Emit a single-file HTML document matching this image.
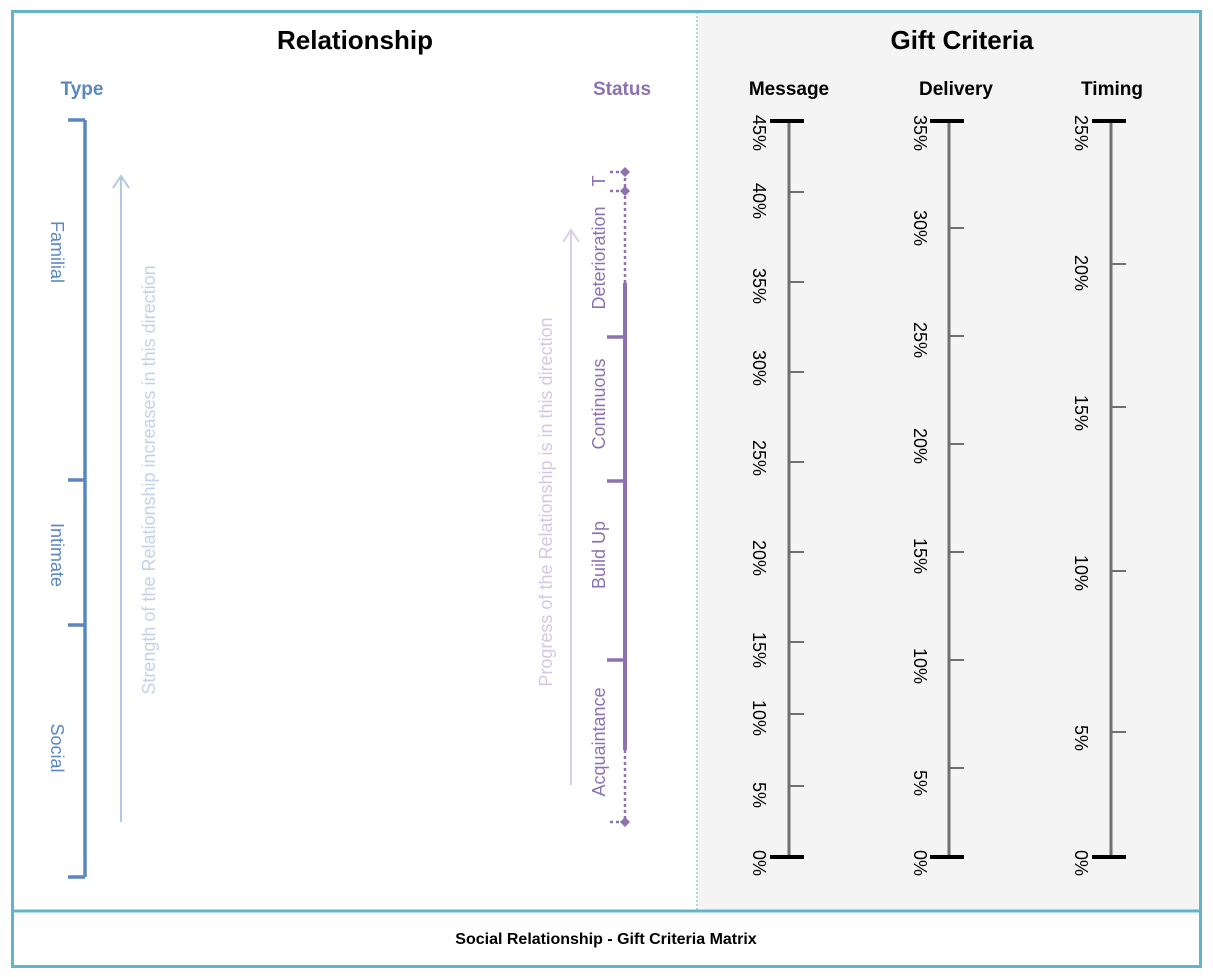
<!DOCTYPE html>
<html><head><meta charset="utf-8"><style>
html,body{margin:0;padding:0;background:#fff;width:1213px;height:977px;overflow:hidden}
svg{display:block;font-family:"Liberation Sans",sans-serif}
</style></head><body>
<svg width="1213" height="977" viewBox="0 0 1213 977" xmlns="http://www.w3.org/2000/svg">
<rect x="697" y="12" width="503" height="898" fill="#f4f4f4"/>
<rect x="12.5" y="11.5" width="1188" height="955" fill="none" stroke="#62b5c8" stroke-width="3"/>
<line x1="12" y1="911" x2="1200" y2="911" stroke="#62b5c8" stroke-width="3"/>
<line x1="697" y1="12" x2="697" y2="910" stroke="#62b5c8" stroke-width="1" stroke-dasharray="2,2"/>
<text x="606" y="944" text-anchor="middle" font-size="16" font-weight="bold">Social Relationship - Gift Criteria Matrix</text>
<text x="355" y="49" text-anchor="middle" font-size="26" font-weight="bold">Relationship</text>
<text x="962" y="49" text-anchor="middle" font-size="26" font-weight="bold">Gift Criteria</text>
<text x="82" y="95" text-anchor="middle" font-size="19" font-weight="bold" fill="#5b86c0">Type</text>
<text x="622" y="95" text-anchor="middle" font-size="19" font-weight="bold" fill="#8c72b0">Status</text>
<text x="789" y="95" text-anchor="middle" font-size="19" font-weight="bold">Message</text>
<text x="956" y="95" text-anchor="middle" font-size="19" font-weight="bold">Delivery</text>
<text x="1112" y="95" text-anchor="middle" font-size="19" font-weight="bold">Timing</text>
<!-- Type -->
<g stroke="#5b86c0" stroke-width="3.5" fill="#5b86c0">
<line x1="85" y1="120" x2="85" y2="877"/>
<line x1="68" y1="120" x2="85" y2="120"/><line x1="68" y1="480" x2="85" y2="480"/>
<line x1="68" y1="625" x2="85" y2="625"/><line x1="68" y1="877" x2="85" y2="877"/>
</g>
<g fill="#5b86c0" font-size="18">
<text transform="translate(51,252) rotate(90)" text-anchor="middle">Familial</text>
<text transform="translate(51,555) rotate(90)" text-anchor="middle">Intimate</text>
<text transform="translate(51,748) rotate(90)" text-anchor="middle">Social</text>
</g>
<line x1="121" y1="822" x2="121" y2="178" stroke="#b3c7e2" stroke-width="2"/>
<polyline points="113,188 121,176 129,188" fill="none" stroke="#b3c7e2" stroke-width="2"/>
<text transform="translate(155,480) rotate(-90)" text-anchor="middle" font-size="18" fill="#c3d2e8">Strength of the Relationship increases in this direction</text>
<!-- Status -->
<g stroke="#8c72b0" fill="#8c72b0">
<line x1="625" y1="172" x2="625" y2="283" stroke-width="2.5" stroke-dasharray="3,3"/>
<line x1="625" y1="283" x2="625" y2="750" stroke-width="4"/>
<line x1="625" y1="750" x2="625" y2="822" stroke-width="2.5" stroke-dasharray="3,3"/>
<line x1="610" y1="172" x2="625" y2="172" stroke-width="2.5" stroke-dasharray="3,3"/>
<line x1="610" y1="191" x2="625" y2="191" stroke-width="2.5" stroke-dasharray="3,3"/>
<line x1="610" y1="822" x2="625" y2="822" stroke-width="2.5" stroke-dasharray="3,3"/>
<line x1="607" y1="337" x2="625" y2="337" stroke-width="3.5"/>
<line x1="607" y1="481" x2="625" y2="481" stroke-width="3.5"/>
<line x1="607" y1="660" x2="625" y2="660" stroke-width="3.5"/>
<path d="M625 167l5 5-5 5-5-5z M625 186l5 5-5 5-5-5z M625 817l5 5-5 5-5-5z" stroke="none"/>
</g>
<g fill="#8c72b0" font-size="18">
<text transform="translate(605,258) rotate(-90)" text-anchor="middle">Deterioration</text>
<text transform="translate(605,181) rotate(-90)" text-anchor="middle">T</text>
<text transform="translate(605,404) rotate(-90)" text-anchor="middle">Continuous</text>
<text transform="translate(605,555) rotate(-90)" text-anchor="middle">Build Up</text>
<text transform="translate(605,742) rotate(-90)" text-anchor="middle">Acquaintance</text>
</g>
<line x1="571" y1="785" x2="571" y2="232" stroke="#d8d0e6" stroke-width="2"/>
<polyline points="563,242 571,230 579,242" fill="none" stroke="#d8d0e6" stroke-width="2"/>
<text transform="translate(552,502) rotate(-90)" text-anchor="middle" font-size="18" fill="#d3c8e3">Progress of the Relationship is in this direction</text>
<!-- Axes -->
<g stroke="#707070" stroke-width="3">
<line x1="789" y1="121" x2="789" y2="857"/><line x1="949" y1="121" x2="949" y2="857"/><line x1="1111" y1="121" x2="1111" y2="857"/>
</g>
<g stroke="#000" stroke-width="4">
<line x1="770" y1="121" x2="804" y2="121"/><line x1="770" y1="857" x2="804" y2="857"/>
<line x1="930" y1="121" x2="964" y2="121"/><line x1="930" y1="857" x2="964" y2="857"/>
<line x1="1092" y1="121" x2="1126" y2="121"/><line x1="1092" y1="857" x2="1126" y2="857"/>
</g>
<g stroke="#707070" stroke-width="2">
<path d="M789 192h15M789 282h15M789 372h15M789 462h15M789 552h15M789 642h15M789 714h15M789 786h15"/>
<path d="M949 228h15M949 336h15M949 444h15M949 552h15M949 660h15M949 768h15"/>
<path d="M1111 264h15M1111 407h15M1111 571h15M1111 732h15"/>
</g>
<g font-size="18" fill="#000">
<text transform="translate(753,115) rotate(90)">45%</text>
<text transform="translate(753,183) rotate(90)">40%</text>
<text transform="translate(753,268) rotate(90)">35%</text>
<text transform="translate(753,350) rotate(90)">30%</text>
<text transform="translate(753,440) rotate(90)">25%</text>
<text transform="translate(753,540) rotate(90)">20%</text>
<text transform="translate(753,632) rotate(90)">15%</text>
<text transform="translate(753,700) rotate(90)">10%</text>
<text transform="translate(753,782) rotate(90)">5%</text>
<text transform="translate(753,850) rotate(90)">0%</text>
<text transform="translate(914,115) rotate(90)">35%</text>
<text transform="translate(914,210) rotate(90)">30%</text>
<text transform="translate(914,322) rotate(90)">25%</text>
<text transform="translate(914,428) rotate(90)">20%</text>
<text transform="translate(914,538) rotate(90)">15%</text>
<text transform="translate(914,648) rotate(90)">10%</text>
<text transform="translate(914,770) rotate(90)">5%</text>
<text transform="translate(914,850) rotate(90)">0%</text>
<text transform="translate(1075,115) rotate(90)">25%</text>
<text transform="translate(1075,255) rotate(90)">20%</text>
<text transform="translate(1075,395) rotate(90)">15%</text>
<text transform="translate(1075,555) rotate(90)">10%</text>
<text transform="translate(1075,725) rotate(90)">5%</text>
<text transform="translate(1075,850) rotate(90)">0%</text>
</g>
</svg>
</body></html>
